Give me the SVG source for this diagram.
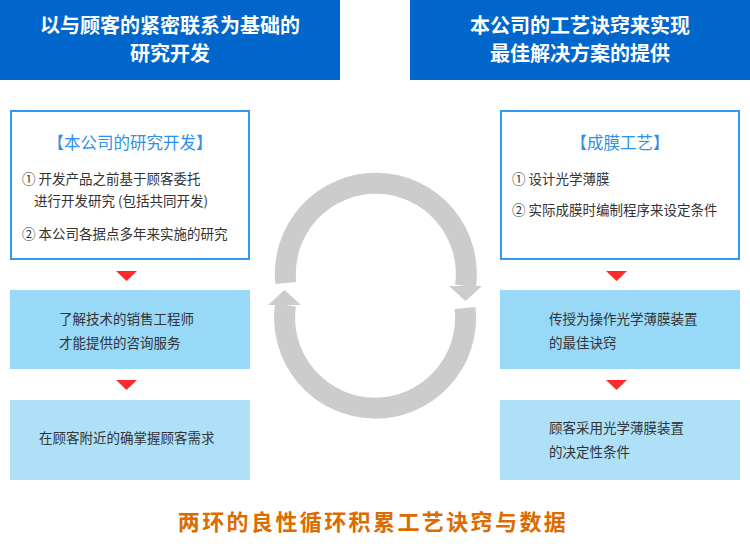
<svg xmlns="http://www.w3.org/2000/svg" width="750" height="552" viewBox="0 0 750 552">
<style>
text{font-family:"Noto Sans CJK SC","Noto Sans",sans-serif}
.hd{fill:#0066CC}
.hdt{fill:#fff;font-size:20px;font-weight:bold;text-anchor:middle}
.box{fill:#fff;stroke:#3399F0;stroke-width:2}
.ttl{fill:#2E90E8;font-size:16.5px;text-anchor:middle}
.it{fill:#333;font-size:13.5px}
.b2{fill:#99D9F8}
.b3{fill:#AEE0F8}
.tri{fill:#FF2A2A}
.ring{fill:none;stroke:#CCCCCC;stroke-width:21}
.ah{fill:#CCCCCC}
.ft{fill:#DD6B00;font-size:22px;font-weight:bold;text-anchor:middle;letter-spacing:2.4px}
</style>
<g id="header-left">
<rect class="hd" x="0" y="0" width="340" height="80"/>
<text class="hdt" x="170" y="33">以与顾客的紧密联系为基础的</text>
<text class="hdt" x="170" y="61">研究开发</text>
</g>
<g id="header-right">
<rect class="hd" x="410" y="0" width="340" height="80"/>
<text class="hdt" x="580" y="33">本公司的工艺诀窍来实现</text>
<text class="hdt" x="580" y="61">最佳解决方案的提供</text>
</g>
<g id="left-rd">
<rect class="box" x="11" y="111" width="238" height="148"/>
<text class="ttl" x="130" y="149">【本公司的研究开发】</text>
<text class="it" x="22" y="184">① 开发产品之前基于顾客委托</text>
<text class="it" x="34" y="206">进行开发研究 (包括共同开发)</text>
<text class="it" x="22" y="239">② 本公司各据点多年来实施的研究</text>
</g>
<g id="left-consult">
<rect class="b2" x="10" y="290" width="240" height="79"/>
<text class="it" x="59" y="324">了解技术的销售工程师</text>
<text class="it" x="59" y="348">才能提供的咨询服务</text>
</g>
<g id="left-need">
<rect class="b3" x="10" y="400" width="240" height="80"/>
<text class="it" x="39" y="443">在顾客附近的确掌握顾客需求</text>
</g>
<g id="right-process">
<rect class="box" x="501" y="111" width="238" height="148"/>
<text class="ttl" x="620" y="149">【成膜工艺】</text>
<text class="it" x="512" y="184">① 设计光学薄膜</text>
<text class="it" x="512" y="215">② 实际成膜时编制程序来设定条件</text>
</g>
<g id="right-knowhow">
<rect class="b2" x="500" y="290" width="240" height="79"/>
<text class="it" x="549" y="324">传授为操作光学薄膜装置</text>
<text class="it" x="549" y="348">的最佳诀窍</text>
</g>
<g id="right-condition">
<rect class="b3" x="500" y="400" width="240" height="80"/>
<text class="it" x="549" y="433">顾客采用光学薄膜装置</text>
<text class="it" x="549" y="457">的决定性条件</text>
</g>
<g id="connectors">
<polygon class="tri" points="116,271 137,271 126.5,281"/>
<polygon class="tri" points="116,380 137,380 126.5,390"/>
<polygon class="tri" points="606,271 627,271 616.5,281"/>
<polygon class="tri" points="606,380 627,380 616.5,390"/>
<path class="ring" d="M285.8,283 A90.5,90.5 0 1 1 465.5,286"/>
<polygon class="ah" points="449,286 482,286 465.5,301"/>
<path class="ring" d="M465.1,308 A90.5,90.5 0 1 1 285.5,305"/>
<polygon class="ah" points="268,305 301,305 284.5,290"/>
</g>
<g id="footer">
<text class="ft" x="373" y="530">两环的良性循环积累工艺诀窍与数据</text>
</g>
</svg>
